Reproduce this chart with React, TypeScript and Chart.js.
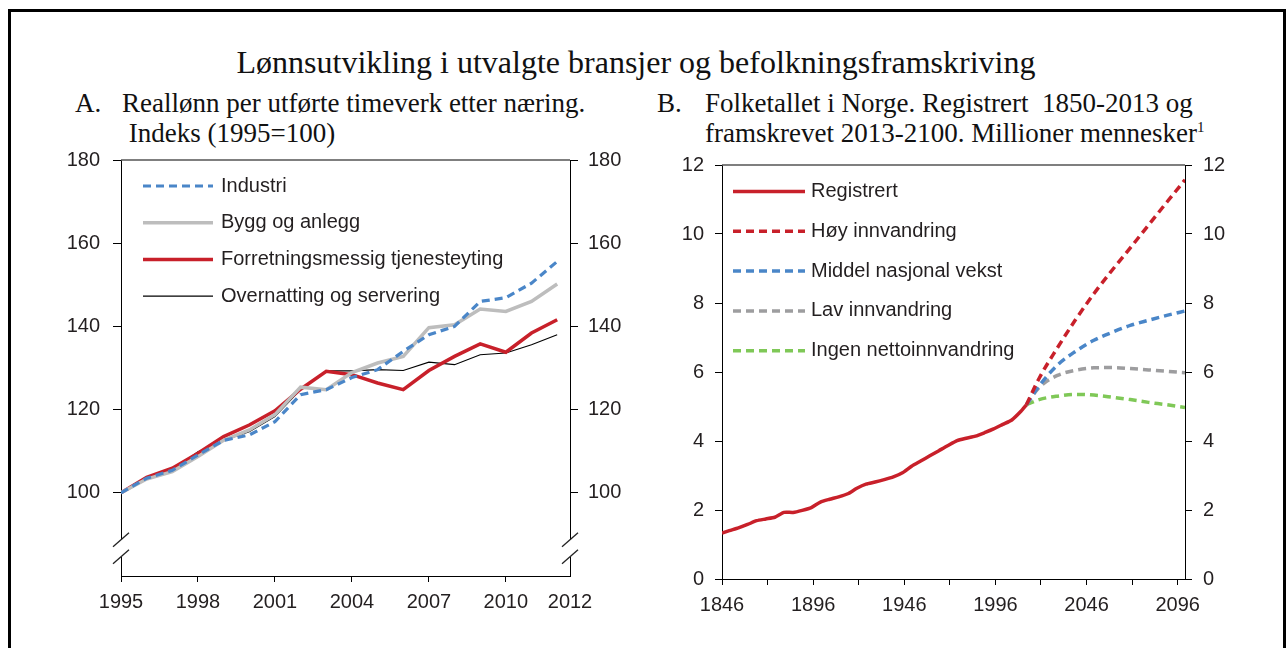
import React, { useEffect, useRef } from "react";
import { Chart, registerables } from "chart.js";

Chart.register(...registerables);

// ---------- Panel A data ----------
const yearsA = [1995, 1996, 1997, 1998, 1999, 2000, 2001, 2002, 2003, 2004, 2005, 2006, 2007, 2008, 2009, 2010, 2011, 2012];
const industri = [100, 103.5, 105.4, 109.1, 112.6, 113.9, 117.1, 123.6, 124.8, 127.7, 129.6, 134.0, 138.0, 140.0, 146.0, 146.9, 150.4, 155.6];
const bygg = [100, 103.3, 105.1, 108.7, 112.6, 115.1, 118.8, 125.4, 124.8, 128.9, 131.2, 132.8, 139.7, 140.4, 144.2, 143.6, 146.0, 150.2];
const forretning = [100, 103.7, 105.9, 109.5, 113.5, 116.3, 119.7, 124.9, 129.2, 128.4, 126.4, 124.8, 129.4, 132.8, 135.8, 133.8, 138.4, 141.6];
const overnatting = [100, 103.3, 105.5, 109.9, 112.6, 114.7, 118.3, 124.8, 129.3, 129.3, 129.6, 129.4, 131.4, 130.8, 133.2, 133.6, 135.6, 138.0];
const yTicksA = [100, 120, 140, 160, 180];
const xTicksA = [1995, 1998, 2001, 2004, 2007, 2010, 2012.5];

// ---------- Panel B data ----------
const regYears = [1846, 1850, 1855, 1860, 1865, 1870, 1875, 1880, 1885, 1890, 1895, 1900, 1905, 1910, 1915, 1920, 1925, 1930, 1935, 1940, 1945, 1950, 1955, 1960, 1965, 1970, 1975, 1980, 1985, 1990, 1995, 2000, 2005, 2010, 2013];
const regValues = [1.33, 1.40, 1.48, 1.58, 1.69, 1.74, 1.79, 1.93, 1.93, 1.99, 2.07, 2.23, 2.31, 2.38, 2.47, 2.63, 2.75, 2.81, 2.88, 2.96, 3.08, 3.27, 3.42, 3.57, 3.72, 3.87, 4.01, 4.08, 4.14, 4.24, 4.35, 4.48, 4.61, 4.86, 5.05];
const projYears = [2013, 2020, 2030, 2040, 2050, 2060, 2070, 2080, 2090, 2100];
const hoy = [5.05, 5.82, 6.7, 7.52, 8.27, 8.95, 9.6, 10.26, 10.92, 11.57];
const middel = [5.05, 5.6, 6.2, 6.6, 6.92, 7.15, 7.35, 7.5, 7.64, 7.77];
const lav = [5.05, 5.55, 5.9, 6.05, 6.12, 6.13, 6.1, 6.06, 6.02, 5.98];
const ingen = [5.05, 5.2, 5.3, 5.35, 5.33, 5.27, 5.2, 5.12, 5.05, 4.97];
const yTicksB = [0, 2, 4, 6, 8, 10, 12];
const xTicksB = [1846, 1871, 1896, 1921, 1946, 1971, 1996, 2021, 2046, 2071, 2096];

const RED = "#c8202a";
const BLUE = "#4a86c8";
const LGRAY = "#bdbdbd";
const MGRAY = "#9d9d9f";
const GREEN = "#7fc857";
const TXT = "#231f20";
const SANS = "'Liberation Sans', Arial, sans-serif";
const SERIF = "'Liberation Serif', 'Times New Roman', serif";

const pts = (xs: number[], ys: number[]) => xs.map((x, i) => ({ x, y: ys[i] }));

const decorPlugin = {
  id: "decor",
  afterDraw(chart: any, _args: any, opts: any) {
    const { ctx, chartArea } = chart;
    ctx.save();
    // top frame line
    ctx.strokeStyle = "#555";
    ctx.lineWidth = 1.5;
    ctx.beginPath();
    ctx.moveTo(chartArea.left, chartArea.top);
    ctx.lineTo(chartArea.right, chartArea.top);
    ctx.stroke();
    // axis breaks
    if (opts.breaks) {
      const ys = chart.scales.y;
      const b1 = ys.getPixelForValue(opts.breaks[0]);
      const b2 = ys.getPixelForValue(opts.breaks[1]);
      for (const x of [chartArea.left, chartArea.right]) {
        ctx.fillStyle = "#fff";
        ctx.fillRect(x - 2, b1, 4, b2 - b1);
        ctx.strokeStyle = "#222";
        ctx.lineWidth = 1.3;
        for (const b of [b1, b2]) {
          ctx.beginPath();
          ctx.moveTo(x - 8, b + 7);
          ctx.lineTo(x + 8, b - 7);
          ctx.stroke();
        }
      }
    }
    // legend
    const L = opts.legend;
    if (L) {
      ctx.font = L.font;
      ctx.textBaseline = "middle";
      chart.data.datasets.forEach((ds: any, i: number) => {
        const y = chartArea.top + L.top + i * L.rowH;
        const x0 = chartArea.left + L.left;
        ctx.save();
        ctx.strokeStyle = ds.borderColor;
        ctx.lineWidth = ds.borderWidth;
        ctx.setLineDash(ds.borderDash || []);
        ctx.beginPath();
        ctx.moveTo(x0, y);
        ctx.lineTo(x0 + L.len, y);
        ctx.stroke();
        ctx.restore();
        ctx.fillStyle = TXT;
        ctx.fillText(ds.label, x0 + L.len + L.gap, y);
      });
    }
    ctx.restore();
  },
};

function yAxis(position: string, width: number, min: number, max: number, ticks: number[], pad: number, tl: number) {
  return {
    type: "linear",
    position,
    min,
    max,
    afterBuildTicks: (axis: any) => {
      axis.ticks = ticks.map((v) => ({ value: v }));
    },
    afterFit: (scale: any) => {
      scale.width = width;
    },
    border: { display: true, color: "#000", width: 1 },
    grid: { drawOnChartArea: false, drawTicks: true, tickLength: tl, color: "#000", tickColor: "#000" },
    ticks: {
      padding: pad,
      color: TXT,
      font: { family: SANS, size: 20 },
      callback: (v: any) => String(v),
    },
  };
}

function ChartA() {
  const ref = useRef<HTMLCanvasElement>(null);
  useEffect(() => {
    const chart = new Chart(ref.current as HTMLCanvasElement, {
      type: "line",
      data: {
        datasets: [
          { label: "Industri", data: pts(yearsA, industri), borderColor: BLUE, borderWidth: 3.2, borderDash: [8, 5], pointRadius: 0, tension: 0 },
          { label: "Bygg og anlegg", data: pts(yearsA, bygg), borderColor: LGRAY, borderWidth: 3.5, pointRadius: 0, tension: 0 },
          { label: "Forretningsmessig tjenesteyting", data: pts(yearsA, forretning), borderColor: RED, borderWidth: 3.5, pointRadius: 0, tension: 0 },
          { label: "Overnatting og servering", data: pts(yearsA, overnatting), borderColor: "#000", borderWidth: 1.1, pointRadius: 0, tension: 0 },
        ],
      } as any,
      options: {
        animation: false,
        responsive: false,
        layout: { padding: 0 },
        plugins: {
          legend: { display: false },
          tooltip: { enabled: false },
          decor: {
            breaks: [88.7, 84.6],
            legend: { font: `20px ${SANS}`, left: 22, top: 26, rowH: 36.7, len: 70, gap: 8 },
          },
        } as any,
        scales: {
          x: {
            type: "linear",
            min: 1995,
            max: 2012.5,
            afterBuildTicks: (axis: any) => {
              axis.ticks = xTicksA.map((v) => ({ value: v }));
            },
            afterFit: (scale: any) => {
              scale.height = 39;
            },
            border: { display: true, color: "#000", width: 1 },
            grid: {
              drawOnChartArea: false,
              drawTicks: true,
              tickLength: 6,
              color: "#000",
              tickColor: (c: any) => (c.tick && c.tick.value === 2012.5 ? "rgba(0,0,0,0)" : "#000"),
            },
            ticks: {
              padding: 8,
              color: TXT,
              maxRotation: 0,
              autoSkip: false,
              font: { family: SANS, size: 20 },
              callback: (v: any) => (v === 2012.5 ? "2012" : String(v)),
            },
          },
          y: yAxis("left", 81, 80, 180, yTicksA, 13, 8),
          y2: yAxis("right", 90, 80, 180, yTicksA, 10, 8),
        } as any,
      },
      plugins: [decorPlugin as any],
    });
    return () => chart.destroy();
  }, []);
  return <canvas ref={ref} width={620} height={480} style={{ position: "absolute", left: 40, top: 135 }} />;
}

function ChartB() {
  const ref = useRef<HTMLCanvasElement>(null);
  useEffect(() => {
    const proj = { pointRadius: 0, borderWidth: 3.5, borderDash: [8, 5], tension: 0.4, cubicInterpolationMode: "monotone" };
    const chart = new Chart(ref.current as HTMLCanvasElement, {
      type: "line",
      data: {
        datasets: [
          { label: "Registrert", data: pts(regYears, regValues), borderColor: RED, borderWidth: 3.5, pointRadius: 0, tension: 0.2 },
          { label: "Høy innvandring", data: pts(projYears, hoy), borderColor: RED, ...proj },
          { label: "Middel nasjonal vekst", data: pts(projYears, middel), borderColor: BLUE, ...proj },
          { label: "Lav innvandring", data: pts(projYears, lav), borderColor: MGRAY, ...proj },
          { label: "Ingen nettoinnvandring", data: pts(projYears, ingen), borderColor: GREEN, ...proj },
        ],
      } as any,
      options: {
        animation: false,
        responsive: false,
        layout: { padding: 0 },
        plugins: {
          legend: { display: false },
          tooltip: { enabled: false },
          decor: {
            legend: { font: `20px ${SANS}`, left: 11, top: 26.5, rowH: 39.8, len: 72, gap: 6 },
          },
        } as any,
        scales: {
          x: {
            type: "linear",
            min: 1846,
            max: 2100,
            afterBuildTicks: (axis: any) => {
              axis.ticks = xTicksB.map((v) => ({ value: v }));
            },
            afterFit: (scale: any) => {
              scale.height = 38;
            },
            border: { display: true, color: "#000", width: 1 },
            grid: { drawOnChartArea: false, drawTicks: true, tickLength: 6, color: "#000", tickColor: "#000" },
            ticks: {
              padding: 8,
              color: TXT,
              maxRotation: 0,
              autoSkip: false,
              font: { family: SANS, size: 20 },
              callback: (v: any) => ((v - 1846) % 50 === 0 ? String(v) : ""),
            },
          },
          y: yAxis("left", 62, 0, 12, yTicksB, 11, 7),
          y2: yAxis("right", 75, 0, 12, yTicksB, 11, 7),
        } as any,
      },
      plugins: [decorPlugin as any],
    });
    return () => chart.destroy();
  }, []);
  return <canvas ref={ref} width={600} height={475} style={{ position: "absolute", left: 660, top: 142 }} />;
}

export default function App() {
  const serif = { fontFamily: SERIF, color: "#111", position: "absolute" as const, whiteSpace: "nowrap" as const };
  return (
    <div style={{ position: "absolute", left: 0, top: 0, width: 1287, height: 648, overflow: "hidden", background: "#fff" }}>
      <div style={{ position: "absolute", left: 8, top: 9, width: 1278, height: 720, border: "3px solid #000", boxSizing: "border-box" }} />
      <div style={{ ...serif, left: 0, width: 1272, top: 43, textAlign: "center", fontSize: 32, lineHeight: "38px" }}>
        Lønnsutvikling i utvalgte bransjer og befolkningsframskriving
      </div>
      <div style={{ ...serif, left: 75, top: 88, fontSize: 27, lineHeight: "30px" }}>A.</div>
      <div style={{ ...serif, left: 122, top: 88, fontSize: 27, lineHeight: "30px" }}>
        Reallønn per utførte timeverk etter næring.
        <br />
        &nbsp;Indeks (1995=100)
      </div>
      <div style={{ ...serif, left: 657, top: 88, fontSize: 27, lineHeight: "30px" }}>B.</div>
      <div style={{ ...serif, left: 705, top: 88, fontSize: 27, lineHeight: "30px" }}>
        Folketallet i Norge. Registrert&nbsp; 1850-2013 og
        <br />
        framskrevet 2013-2100. Millioner mennesker
        <sup style={{ fontSize: 15, verticalAlign: "10px", lineHeight: 0 }}>1</sup>
      </div>
      <ChartA />
      <ChartB />
    </div>
  );
}
